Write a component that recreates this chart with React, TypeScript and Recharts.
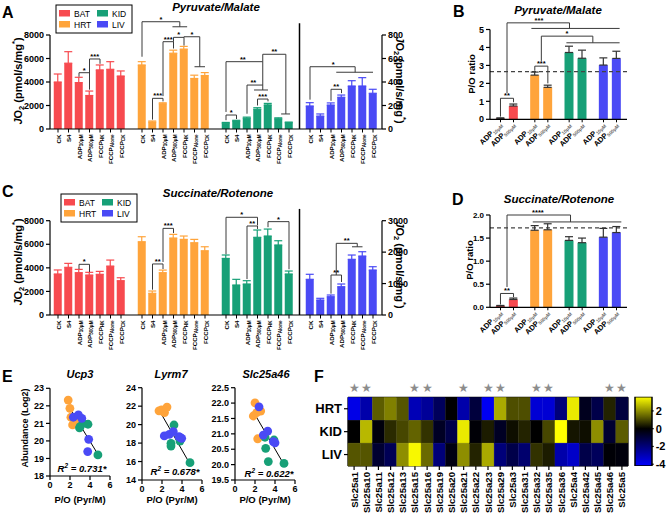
import React from "react";
import {
  BarChart,
  Bar,
  XAxis,
  YAxis,
  ErrorBar,
  ReferenceLine,
  ReferenceDot,
  ScatterChart,
  Scatter,
  Cell,
} from "recharts";

const FONT = "Arial, 'Liberation Sans', Helvetica, sans-serif";
const INK = "#000";
const BRACKET = "#3a3a3a";
const AXIS = { stroke: INK, strokeWidth: 1.2 };
const TICK_NUM = { fontSize: 9, fontWeight: 700, fill: INK };

const TISSUES = ["BAT", "HRT", "KID", "LIV"];
const TISSUE_COLORS: Record<string, string> = {
  BAT: "#f74a4f",
  HRT: "#ffa43b",
  KID: "#17a077",
  LIV: "#4a4af5",
};
const CONDITIONS = ["CK", "S4", "ADP10", "ADP500", "FCCPHK", "FCCPAlone", "FCCPCK"];
const CONDITION_TEXT: Record<string, [string, string]> = {
  CK: ["CK", ""],
  S4: ["S4", ""],
  ADP10: ["ADP", "10μM"],
  ADP500: ["ADP", "500μM"],
  FCCPHK: ["FCCP", "HK"],
  FCCPAlone: ["FCCP", "Alone"],
  FCCPCK: ["FCCP", "CK"],
};

// A  Pyruvate/Malate JO2 (BAT, HRT, KID left axis; LIV right axis)
const pmBAT = [4000, 5600, 3950, 2850, 5030, 5080, 4510];
const pmBATErr = [680, 980, 450, 380, 420, 650, 430];
const pmHRT = [5450, 600, 2150, 6450, 6800, 4300, 4550];
const pmHRTErr = [280, 80, 80, 260, 230, 280, 250];
const pmKID = [500, 680, 920, 1680, 2050, 870, 540];
const pmKIDErr = [60, 60, 90, 130, 130, 80, 50];
const pmLIV = [196, 110, 204, 270, 366, 366, 304];
const pmLIVErr = [28, 18, 18, 19, 45, 71, 34];

// C  Succinate/Rotenone JO2
const saBAT = [3480, 4045, 3590, 3390, 3450, 4150, 2910];
const saBATErr = [340, 335, 280, 230, 250, 510, 250];
const saHRT = [6215, 1840, 3590, 6530, 6415, 6130, 5450];
const saHRTErr = [425, 195, 220, 310, 285, 285, 340];
const saKID = [4800, 2545, 2630, 6590, 6700, 5940, 3480];
const saKIDErr = [290, 480, 280, 620, 590, 360, 250];
const saLIV = [1135, 477, 582, 900, 1771, 1876, 1431];
const saLIVErr = [160, 54, 54, 86, 137, 137, 105];

const FLUX_LEFT_TICKS = [0, 2000, 4000, 6000, 8000];
const PM_RIGHT_TICKS = [0, 200, 400, 600, 800];
const SA_RIGHT_TICKS = [0, 1000, 2000, 3000];

// B / D  P/O ratio
const pmPO10 = [0.05, 2.46, 3.72, 3.02];
const pmPO10Err = [0.03, 0.17, 0.35, 0.4];
const pmPO500 = [0.74, 1.78, 3.4, 3.39];
const pmPO500Err = [0.11, 0.12, 0.45, 0.4];
const pmPOThreshold = 2.65;
const saPO10 = [0.03, 1.67, 1.45, 1.52];
const saPO10Err = [0.01, 0.1, 0.08, 0.19];
const saPO500 = [0.17, 1.68, 1.4, 1.62];
const saPO500Err = [0.03, 0.13, 0.1, 0.13];
const saPOThreshold = 1.72;
const PM_PO_TICKS = [0, 1, 2, 3, 4, 5];
const SA_PO_TICKS = [0, 0.5, 1, 1.5, 2];

// E  abundance vs P/O  [P/O, log2 abundance]
const ucp3HRT = [[1.82, 22.33], [1.99, 21.86], [2.09, 21.35], [2.26, 20.91], [2.6, 21.04]];
const ucp3KID = [[3.01, 20.81], [3.29, 21.0], [3.8, 20.95], [4.79, 19.2], [2.95, 20.75]];
const ucp3LIV = [[2.33, 21.35], [2.84, 21.48], [3.18, 21.29], [3.87, 20.09], [3.77, 19.39]];
const ucp3Fit = [[1.83, 22.0], [4.83, 19.2]];
const lyrm7HRT = [[1.7, 21.5], [1.95, 21.6], [2.05, 21.45], [2.25, 21.3], [2.5, 21.9]];
const lyrm7KID = [[3.2, 19.96], [2.9, 17.97], [2.9, 17.68], [3.8, 18.22], [4.8, 15.88]];
const lyrm7LIV = [[2.23, 18.77], [2.73, 18.95], [3.13, 19.23], [3.7, 18.69], [3.97, 18.51], [3.8, 18.62]];
const lyrm7Fit = [[1.8, 21.4], [4.8, 15.73]];
const slcHRT = [[2.0, 22.01], [2.17, 21.69], [2.57, 21.74], [1.83, 21.58], [2.27, 20.84]];
const slcKID = [[3.0, 20.89], [3.07, 20.53], [3.33, 20.1], [3.9, 20.8], [4.9, 20.04]];
const slcLIV = [[2.4, 21.88], [2.83, 20.96], [3.27, 21.09], [3.83, 20.75], [4.0, 20.71]];
const slcFit = [[1.83, 21.72], [4.83, 20.04]];

// F  heatmap of Slc25 carriers
const SLC_GENES = [
  "Slc25a1", "Slc25a10", "Slc25a11", "Slc25a12", "Slc25a13", "Slc25a15", "Slc25a16", "Slc25a19",
  "Slc25a20", "Slc25a21", "Slc25a22", "Slc25a23", "Slc25a29", "Slc25a3", "Slc25a31", "Slc25a32",
  "Slc25a35", "Slc25a36", "Slc25a4", "Slc25a42", "Slc25a45", "Slc25a46", "Slc25a5",
];
const HEAT_ROWS = ["HRT", "KID", "LIV"];
const heatHRT = [-3.8, -2.8, 1.3, 1.8, 1.2, -3.0, -2.5, -1.5, 0.0, -2.8, -1.0, -4.0, 2.4, 1.1, 1.1, -3.5, -3.5, -2.0, 3.3, -0.5, -1.2, 0.5, -1.0];
const heatKID = [0.0, 2.6, -0.2, 0.6, 1.0, 1.4, 0.7, -0.6, -1.2, 3.3, -0.1, 0.4, -0.6, 0.2, 0.5, 0.0, 1.0, 3.6, 0.3, 0.2, 2.0, -0.8, 1.3];
const heatLIV = [1.2, 1.2, -0.8, -1.4, 2.0, 3.5, 1.5, -2.0, -0.3, 2.0, 0.5, 2.4, -2.0, -1.2, -1.8, 0.7, 0.4, -2.8, -3.3, -1.2, -1.5, -0.1, -0.2];
const STARRED = ["Slc25a1", "Slc25a10", "Slc25a15", "Slc25a16", "Slc25a21", "Slc25a23", "Slc25a29", "Slc25a32", "Slc25a35", "Slc25a46", "Slc25a5"];
const HEAT_MIN = -4.2;
const HEAT_MAX = 3.6;
const HEAT_TICKS = [2, 0, -2, -4];

type Bracket = { paths: number[][][]; text: string; at: number[]; axis?: string };

// x in slot units (tissue block * 8 + condition), y in axis units
const pmBrackets: Bracket[] = [
  { paths: [[[2, 4450], [2, 4790], [3, 4790], [3, 3350]]], text: "*", at: [2.5, 4790] },
  { paths: [[[3, 3650], [3, 5960], [4, 5960], [4, 5550]]], text: "***", at: [3.5, 5960] },
  { paths: [[[9, 800], [9, 2610], [10, 2610], [10, 2350]]], text: "***", at: [9.5, 2610] },
  { paths: [[[10, 2800], [10, 7430], [11, 7430], [11, 6850]]], text: "***", at: [10.5, 7430] },
  { paths: [[[11, 7430], [11, 7800], [12, 7800], [12, 7100]]], text: "*", at: [11.5, 7800] },
  { paths: [[[12, 7800], [12, 7850], [13.5, 7850], [13.5, 5300]], [[13, 5300], [14, 5300]]], text: "*", at: [12.75, 7850] },
  { paths: [[[8, 6150], [8, 9130], [11.6, 9130], [11.6, 8700]], [[10.9, 8700], [12.3, 8700]]], text: "*", at: [9.8, 9130] },
  { paths: [[[16, 750], [16, 1190], [17, 1190], [17, 850]]], text: "*", at: [16.5, 1190] },
  { paths: [[[16, 1450], [16, 5730], [19.5, 5730], [19.5, 3320]], [[18.67, 3320], [20, 3320]]], text: "**", at: [17.6, 5730] },
  { paths: [[[18, 1300], [18, 3740], [19.5, 3740]]], text: "**", at: [18.6, 3740] },
  { paths: [[[19, 2000], [19, 2550], [20, 2550], [20, 2350]]], text: "***", at: [19.5, 2550] },
  { paths: [[[19.5, 5730], [19.5, 6360], [21.7, 6360], [21.7, 1280]], [[21.25, 1280], [22.1, 1280]]], text: "**", at: [20.6, 6360] },
  { paths: [[[26, 240], [26, 338], [27, 338], [27, 305]]], text: "**", at: [26.5, 338], axis: "r" },
  { paths: [[[24, 250], [24, 530], [28.3, 530], [28.3, 483]], [[26.5, 483], [30, 483]]], text: "*", at: [26.2, 530], axis: "r" },
];

const saBrackets: Bracket[] = [
  { paths: [[[2, 3900], [2, 4300], [3, 4300], [3, 3650]]], text: "*", at: [2.5, 4300] },
  { paths: [[[9, 2150], [9, 4330], [10, 4330], [10, 3900]]], text: "**", at: [9.5, 4330] },
  { paths: [[[10, 4500], [10, 7350], [11, 7350], [11, 6950]]], text: "***", at: [10.5, 7350] },
  { paths: [[[16, 5150], [16, 8290], [19, 8290], [19, 7600]]], text: "*", at: [17.5, 8290] },
  { paths: [[[18, 3050], [18, 7550], [19, 7550], [19, 7300]]], text: "**", at: [18.5, 7550] },
  { paths: [[[20, 7450], [20, 7920], [22, 7920], [22, 3880]]], text: "*", at: [21, 7920] },
  { paths: [[[26, 680], [26, 1272], [27, 1272], [27, 1050]]], text: "**", at: [26.5, 1272], axis: "r" },
  { paths: [[[26.5, 1272], [26.5, 2280], [28.5, 2280], [28.5, 2170]], [[28, 2170], [29, 2170]]], text: "**", at: [27.5, 2280], axis: "r" },
];

// x in tissue units (tissue index, bars at about +-0.19)
const pmPOBrackets: Bracket[] = [
  { paths: [[[-0.19, 0.15], [-0.19, 1.17], [0.19, 1.17], [0.19, 0.95]]], text: "**", at: [0, 1.17] },
  { paths: [[[0, 1.45], [0, 5.37], [1.82, 5.37], [1.82, 5.06]], [[0.71, 5.06], [3.28, 5.06]]], text: "***", at: [0.93, 5.37] },
  { paths: [[[0.81, 2.7], [0.81, 2.96], [1.19, 2.96], [1.19, 2.0]]], text: "***", at: [1, 2.96] },
  { paths: [[[1, 3.25], [1, 4.63], [2.5, 4.63], [2.5, 4.26]], [[1.73, 4.26], [3.28, 4.26]]], text: "*", at: [1.75, 4.63] },
];

const saPOBrackets: Bracket[] = [
  { paths: [[[-0.19, 0.06], [-0.19, 0.3], [0.19, 0.3], [0.19, 0.22]]], text: "**", at: [0, 0.3] },
  { paths: [[[0, 0.44], [0, 2.0], [1.85, 2.0], [1.85, 1.85]], [[0.75, 1.85], [3.33, 1.85]]], text: "****", at: [0.9, 2.0] },
];

const SLOTS_PER_TISSUE = CONDITIONS.length + 1;
const FLUX_SLOT_MAX = (TISSUES.length - 1) * SLOTS_PER_TISSUE + CONDITIONS.length - 1;
const FLUX_SEPARATOR = 3 * SLOTS_PER_TISSUE - 1;
const FLUX_TICKS: number[] = [];
const FLUX_COND_AT: Record<number, string> = {};
TISSUES.forEach((t, ti) =>
  CONDITIONS.forEach((c, ci) => {
    const p = ti * SLOTS_PER_TISSUE + ci;
    FLUX_TICKS.push(p);
    FLUX_COND_AT[p] = c;
  })
);

function buildFlux(vals: number[][], errs: number[][]) {
  const rows: any[] = [];
  TISSUES.forEach((t, ti) => {
    CONDITIONS.forEach((c, ci) => {
      rows.push({ pos: ti * SLOTS_PER_TISSUE + ci, [t]: vals[ti][ci], [`${t}Err`]: [0, errs[ti][ci]] });
    });
  });
  return rows;
}

const pmRows = buildFlux([pmBAT, pmHRT, pmKID, pmLIV], [pmBATErr, pmHRTErr, pmKIDErr, pmLIVErr]);
const saRows = buildFlux([saBAT, saHRT, saKID, saLIV], [saBATErr, saHRTErr, saKIDErr, saLIVErr]);

function buildPO(a: number[], ae: number[], b: number[], be: number[]) {
  return TISSUES.map((t, i) => ({
    pos: i,
    tissue: t,
    adp10: a[i],
    adp10Err: [0, ae[i]],
    adp500: b[i],
    adp500Err: [0, be[i]],
  }));
}
const pmPORows = buildPO(pmPO10, pmPO10Err, pmPO500, pmPO500Err);
const saPORows = buildPO(saPO10, saPO10Err, saPO500, saPO500Err);
const PO_TICKS = TISSUES.map((_, i) => i);

const heatValues: Record<string, number[]> = { HRT: heatHRT, KID: heatKID, LIV: heatLIV };
const heatCells = SLC_GENES.flatMap((g, i) => HEAT_ROWS.map((r) => ({ gene: g, row: r, v: heatValues[r][i] })));
const starCells = STARRED.map((g) => ({ gene: g, row: "HRT" }));
const colorbarRows = [{ name: "scale", range: [HEAT_MIN, HEAT_MAX] }];

function heatColor(v: number) {
  if (v >= 0) {
    const c = Math.round(255 * Math.min(1, v / HEAT_MAX));
    return `rgb(${c},${c},0)`;
  }
  const c = Math.round(255 * Math.min(1, v / HEAT_MIN));
  return `rgb(0,0,${c})`;
}

function renderBrackets(list: Bracket[], prefix: string, defaultY: any) {
  const out: React.ReactNode[] = [];
  list.forEach((b, bi) => {
    const yId = b.axis ?? defaultY;
    b.paths.forEach((path, pi) => {
      for (let i = 0; i < path.length - 1; i++) {
        out.push(
          <ReferenceLine
            key={`${prefix}-${bi}-${pi}-${i}`}
            yAxisId={yId}
            segment={[
              { x: path[i][0], y: path[i][1] },
              { x: path[i + 1][0], y: path[i + 1][1] },
            ]}
            stroke={BRACKET}
            strokeWidth={1}
            ifOverflow="visible"
          />
        );
      }
    });
    out.push(
      <ReferenceDot
        key={`${prefix}-${bi}-t`}
        yAxisId={yId}
        x={b.at[0]}
        y={b.at[1]}
        r={0}
        ifOverflow="visible"
        label={{ value: b.text, position: "top", offset: 0, fontSize: 7.5, fontWeight: 700, fill: INK }}
      />
    );
  });
  return out;
}

function CondTick(props: any) {
  const { x, y, payload } = props;
  const cond = FLUX_COND_AT[payload.value];
  if (!cond) return null;
  const [main, sub] = CONDITION_TEXT[cond];
  return (
    <g>
      <line x1={x} x2={x} y1={y} y2={y + 3.5} stroke={INK} strokeWidth={1} />
      <text
        transform={`translate(${x},${y + 5.5}) rotate(-90)`}
        textAnchor="end"
        dominantBaseline="central"
        fontSize={6.2}
        fontWeight={700}
        fill={INK}
      >
        {main}
        {sub && (
          <tspan fontSize={4.6} dy={1.6}>
            {sub}
          </tspan>
        )}
      </text>
    </g>
  );
}

function POTick(props: any) {
  const { x, y } = props;
  const items: [string, number][] = [["10μM", -6.5], ["500μM", 6.5]];
  return (
    <g>
      {items.map(([sub, dx]) => (
        <g key={sub}>
          <line x1={x + dx} x2={x + dx} y1={y} y2={y + 3} stroke={INK} strokeWidth={1} />
          <text
            transform={`translate(${x + dx + 2},${y + 6}) rotate(-45)`}
            textAnchor="end"
            fontSize={7.5}
            fontWeight={700}
            fill={INK}
          >
            ADP
            <tspan fontSize={4.8} fill="#666" dy={1.5}>
              {sub}
            </tspan>
          </text>
        </g>
      ))}
    </g>
  );
}

function GeneTick(props: any) {
  const { x, y, payload } = props;
  return (
    <text
      transform={`translate(${x},${y}) rotate(-90)`}
      textAnchor="end"
      dominantBaseline="central"
      fontSize={9.6}
      fontWeight={700}
      fill={INK}
    >
      {payload.value}
    </text>
  );
}

function FluxChart(props: any) {
  const { rows, height, top, rightMax, rightTicks, brackets, sepTop, prefix } = props;
  return (
    <BarChart width={420} height={height} data={rows} margin={{ top, right: 0, bottom: 0, left: 0 }} barGap={-8} barSize={8}>
      <XAxis
        dataKey="pos"
        type="number"
        domain={[0, FLUX_SLOT_MAX]}
        ticks={FLUX_TICKS}
        interval={0}
        height={51}
        tick={<CondTick />}
        tickLine={false}
        tickSize={0}
        tickMargin={0}
        axisLine={AXIS}
        padding={{ left: 8, right: 9 }}
      />
      <YAxis yAxisId="l" type="number" domain={[0, 8000]} ticks={FLUX_LEFT_TICKS} width={50} tick={TICK_NUM} tickSize={4} tickLine={AXIS} axisLine={AXIS} />
      <YAxis yAxisId="r" orientation="right" type="number" domain={[0, rightMax]} ticks={rightTicks} width={38} tick={TICK_NUM} tickSize={4} tickLine={AXIS} axisLine={AXIS} />
      {TISSUES.map((t) => (
        <Bar key={t} yAxisId={t === "LIV" ? "r" : "l"} dataKey={t} fill={TISSUE_COLORS[t]} isAnimationActive={false}>
          <ErrorBar dataKey={`${t}Err`} width={4} stroke={TISSUE_COLORS[t]} strokeWidth={1.2} />
        </Bar>
      ))}
      <ReferenceLine yAxisId="l" segment={[{ x: FLUX_SEPARATOR, y: 0 }, { x: FLUX_SEPARATOR, y: sepTop }]} stroke={INK} strokeWidth={1.5} ifOverflow="visible" />
      {renderBrackets(brackets, prefix, "l")}
    </BarChart>
  );
}

function POChart(props: any) {
  const { rows, height, top, xHeight, yMax, ticks, fmt, tickFont, threshold, brackets, prefix } = props;
  return (
    <BarChart width={229} height={height} data={rows} margin={{ top, right: 42, bottom: 0, left: 0 }} barGap={4} barSize={9}>
      <XAxis
        dataKey="pos"
        type="number"
        domain={[0, TISSUES.length - 1]}
        ticks={PO_TICKS}
        interval={0}
        height={xHeight}
        tick={<POTick />}
        tickLine={false}
        tickSize={0}
        tickMargin={0}
        axisLine={AXIS}
        padding={{ left: 17, right: 17 }}
      />
      <YAxis type="number" domain={[0, yMax]} ticks={ticks} tickFormatter={fmt} width={50} tick={{ ...TICK_NUM, fontSize: tickFont }} tickSize={4} tickLine={AXIS} axisLine={AXIS} />
      <ReferenceLine y={threshold} stroke="#444" strokeWidth={1.2} strokeDasharray="4 3" />
      <Bar dataKey="adp10" isAnimationActive={false}>
        {rows.map((r: any) => (
          <Cell key={r.tissue} fill={TISSUE_COLORS[r.tissue]} />
        ))}
        <ErrorBar dataKey="adp10Err" width={4} stroke="#333" strokeWidth={1.2} />
      </Bar>
      <Bar dataKey="adp500" isAnimationActive={false}>
        {rows.map((r: any) => (
          <Cell key={r.tissue} fill={TISSUE_COLORS[r.tissue]} />
        ))}
        <ErrorBar dataKey="adp500Err" width={4} stroke="#333" strokeWidth={1.2} />
      </Bar>
      {renderBrackets(brackets, prefix, 0)}
    </BarChart>
  );
}

function ScatterPanel(props: any) {
  const { top, xHeight, yDomain, yTicks, fmt, hrt, kid, liv, fit } = props;
  const series: [string, number[][]][] = [["HRT", hrt], ["KID", kid], ["LIV", liv]];
  return (
    <ScatterChart width={125} height={150} margin={{ top, right: 15, bottom: 0, left: 0 }}>
      <XAxis type="number" dataKey="x" domain={[0, 6]} ticks={[0, 2, 4, 6]} height={xHeight} tick={TICK_NUM} tickSize={4} tickLine={AXIS} axisLine={AXIS} />
      <YAxis type="number" dataKey="y" domain={yDomain} ticks={yTicks} tickFormatter={fmt} width={50} tick={TICK_NUM} tickSize={4} tickLine={AXIS} axisLine={AXIS} />
      {series.map(([t, pts]) => (
        <Scatter
          key={t}
          data={pts.map(([x, y]) => ({ x, y }))}
          fill={TISSUE_COLORS[t]}
          isAnimationActive={false}
          shape={(p: any) => <circle cx={p.cx} cy={p.cy} r={4.4} fill={TISSUE_COLORS[t]} />}
        />
      ))}
      <ReferenceLine segment={[{ x: fit[0][0], y: fit[0][1] }, { x: fit[1][0], y: fit[1][1] }]} stroke={INK} strokeWidth={1} ifOverflow="visible" />
    </ScatterChart>
  );
}

function HeatmapChart() {
  const cellW = 278.4 / SLC_GENES.length;
  const cellH = 68.7 / HEAT_ROWS.length;
  return (
    <ScatterChart width={316} height={139} data={heatCells} margin={{ top: 0, right: 0, bottom: 0, left: 0 }}>
      <XAxis dataKey="gene" type="category" allowDuplicatedCategory={false} interval={0} height={55} tick={<GeneTick />} tickSize={4} tickMargin={2} tickLine={AXIS} axisLine={AXIS} />
      <XAxis xAxisId="top" orientation="top" dataKey="gene" type="category" allowDuplicatedCategory={false} height={15.3} tick={false} tickLine={false} axisLine={AXIS} />
      <YAxis dataKey="row" type="category" allowDuplicatedCategory={false} reversed interval={0} width={35} tick={{ fontSize: 13, fontWeight: 700, fill: INK }} tickSize={4} tickLine={AXIS} axisLine={AXIS} />
      <YAxis yAxisId="right" orientation="right" dataKey="row" type="category" allowDuplicatedCategory={false} reversed width={1} tick={false} tickLine={false} axisLine={AXIS} />
      <Scatter
        isAnimationActive={false}
        shape={(p: any) => (
          <rect x={p.cx - cellW / 2} y={p.cy - cellH / 2} width={cellW} height={cellH} fill={heatColor(p.payload.v)} stroke={heatColor(p.payload.v)} strokeWidth={0.4} />
        )}
      />
      <Scatter
        data={starCells}
        isAnimationActive={false}
        shape={(p: any) => (
          <text x={p.cx} y={p.cy - cellH / 2 - 9} textAnchor="middle" dominantBaseline="central" fontSize={12} fill="#8c8c8c">
            ★
          </text>
        )}
      />
    </ScatterChart>
  );
}

function ColorbarChart() {
  return (
    <BarChart width={39} height={80} data={colorbarRows} margin={{ top: 4.7, right: 0, bottom: 6, left: 5 }} barCategoryGap={0}>
      <XAxis dataKey="name" hide />
      <YAxis orientation="right" type="number" domain={[HEAT_MIN, HEAT_MAX]} ticks={HEAT_TICKS} width={17.3} tick={{ fontSize: 11, fontWeight: 700, fill: INK }} tickSize={2} tickLine={AXIS} axisLine={false} allowDataOverflow />
      <Bar dataKey="range" fill="url(#heatGrad)" stroke={INK} strokeWidth={1.5} isAnimationActive={false} />
    </BarChart>
  );
}

function JO2Title({ x, y, angle }: { x: number; y: number; angle: number }) {
  return (
    <text transform={`translate(${x},${y}) rotate(${angle})`} textAnchor="middle" dominantBaseline="central" fontSize={11} fontWeight={700} fill={INK}>
      <tspan fontStyle="italic">J</tspan>O
      <tspan fontSize={7.5} dy={3}>
        2
      </tspan>
      <tspan dy={-3}> (pmol/s/mg</tspan>
      <tspan fontSize={7.5} dy={-4}>
        *
      </tspan>
      <tspan dy={4}>)</tspan>
    </text>
  );
}

function RSquared({ x, y, value }: { x: number; y: number; value: string }) {
  return (
    <text x={x} y={y} textAnchor="middle" fontSize={9.5} fontWeight={700} fontStyle="italic" fill={INK}>
      R
      <tspan fontSize={6.5} dy={-4}>
        2
      </tspan>
      <tspan dy={4}>{` = ${value}*`}</tspan>
    </text>
  );
}

function Legend({ x, y }: { x: number; y: number }) {
  return (
    <g>
      <rect x={x} y={y} width={76} height={28} fill="#fff" stroke={INK} strokeWidth={1} />
      {TISSUES.map((t, i) => {
        const col = Math.floor(i / 2);
        const row = i % 2;
        const ex = x + 3 + col * 38;
        const ey = y + 5 + row * 11;
        return (
          <g key={t}>
            <rect x={ex} y={ey} width={11} height={6.5} fill={TISSUE_COLORS[t]} />
            <text x={ex + 15} y={ey + 6.5} fontSize={8.5} fill={INK}>
              {t}
            </text>
          </g>
        );
      })}
    </g>
  );
}

function Overlay() {
  const letter = { fontSize: 16, fontWeight: 700, fill: INK };
  const title = { fontSize: 11.5, fontWeight: 700, fontStyle: "italic", fill: INK, textAnchor: "middle" as const };
  const small = { fontSize: 9.5, fontWeight: 700, fill: INK, textAnchor: "middle" as const };
  return (
    <svg width={669} height={521} style={{ position: "absolute", left: 0, top: 0, pointerEvents: "none" }} fontFamily={FONT}>
      <defs>
        <linearGradient id="heatGrad" x1="0" y1="0" x2="0" y2="1">
          <stop offset="0" stopColor="#ffff00" />
          <stop offset={HEAT_MAX / (HEAT_MAX - HEAT_MIN)} stopColor="#000000" />
          <stop offset="1" stopColor="#0000ff" />
        </linearGradient>
      </defs>
      <text x={2} y={18} {...letter}>A</text>
      <text x={453} y={17} {...letter}>B</text>
      <text x={2} y={197} {...letter}>C</text>
      <text x={452} y={205} {...letter}>D</text>
      <text x={2} y={382} {...letter}>E</text>
      <text x={314} y={382} {...letter}>F</text>

      <text x={216} y={11} {...title}>Pyruvate/Malate</text>
      <text x={558} y={14} {...title}>Pyruvate/Malate</text>
      <text x={218} y={197} {...title}>Succinate/Rotenone</text>
      <text x={559} y={203} {...title}>Succinate/Rotenone</text>

      <Legend x={56} y={5} />
      <Legend x={61} y={194} />

      <JO2Title x={18} y={81} angle={-90} />
      <JO2Title x={400} y={80} angle={90} />
      <JO2Title x={18} y={262} angle={-90} />
      <JO2Title x={400} y={265} angle={90} />

      <text transform="translate(471,74) rotate(-90)" textAnchor="middle" dominantBaseline="central" fontSize={9.5} fontWeight={700} fill={INK}>
        P/O ratio
      </text>
      <text transform="translate(469,260) rotate(-90)" textAnchor="middle" dominantBaseline="central" fontSize={9.5} fontWeight={700} fill={INK}>
        P/O ratio
      </text>

      <text x={80} y={378} {...title} fontSize={11}>Ucp3</text>
      <text x={171} y={378} {...title} fontSize={11}>Lyrm7</text>
      <text x={266} y={378} {...title} fontSize={11}>Slc25a46</text>
      <text transform="translate(25,428) rotate(-90)" textAnchor="middle" dominantBaseline="central" fontSize={9} fontWeight={700} fill={INK}>
        Abundance (Log2)
      </text>
      <text x={80} y={503} {...small}>P/O (Pyr/M)</text>
      <text x={172} y={503} {...small}>P/O (Pyr/M)</text>
      <text x={265} y={503} {...small}>P/O (Pyr/M)</text>
      <RSquared x={82} y={472} value="0.731" />
      <RSquared x={175} y={475} value="0.678" />
      <RSquared x={269} y={477} value="0.622" />
    </svg>
  );
}

const pos = (left: number, top: number): React.CSSProperties => ({ position: "absolute", left, top });

export default function App() {
  return (
    <div style={{ position: "absolute", left: 0, top: 0, width: 669, height: 521, background: "#fff", fontFamily: FONT, overflow: "hidden" }}>
      <div style={pos(0, 0)}>
        <FluxChart rows={pmRows} height={180} top={35} rightMax={800} rightTicks={PM_RIGHT_TICKS} brackets={pmBrackets} sepTop={9000} prefix="pm" />
      </div>
      <div style={pos(0, 180)}>
        <FluxChart rows={saRows} height={186} top={40.7} rightMax={3000} rightTicks={SA_RIGHT_TICKS} brackets={saBrackets} sepTop={9000} prefix="sa" />
      </div>
      <div style={pos(440, 0)}>
        <POChart rows={pmPORows} height={180} top={29.5} xHeight={60.7} yMax={5} ticks={PM_PO_TICKS} fmt={(v: number) => String(v)} tickFont={9} threshold={pmPOThreshold} brackets={pmPOBrackets} prefix="pmpo" />
      </div>
      <div style={pos(440, 180)}>
        <POChart rows={saPORows} height={180} top={35} xHeight={52.7} yMax={2} ticks={SA_PO_TICKS} fmt={(v: number) => v.toFixed(1)} tickFont={8} threshold={saPOThreshold} brackets={saPOBrackets} prefix="sapo" />
      </div>
      <div style={pos(0, 370)}>
        <ScatterPanel top={18.3} xHeight={44} yDomain={[18, 23]} yTicks={[18, 19, 20, 21, 22, 23]} hrt={ucp3HRT} kid={ucp3KID} liv={ucp3LIV} fit={ucp3Fit} />
      </div>
      <div style={pos(92, 370)}>
        <ScatterPanel top={17.7} xHeight={40} yDomain={[14, 24]} yTicks={[14, 16, 18, 20, 22, 24]} hrt={lyrm7HRT} kid={lyrm7KID} liv={lyrm7LIV} fit={lyrm7Fit} />
      </div>
      <div style={pos(185, 370)}>
        <ScatterPanel top={17.7} xHeight={40} yDomain={[19.5, 22.5]} yTicks={[19.5, 20, 20.5, 21, 21.5, 22, 22.5]} fmt={(v: number) => v.toFixed(1)} hrt={slcHRT} kid={slcKID} liv={slcLIV} fit={slcFit} />
      </div>
      <div style={pos(313, 382)}>
        <HeatmapChart />
      </div>
      <div style={pos(630, 392)}>
        <ColorbarChart />
      </div>
      <Overlay />
    </div>
  );
}
